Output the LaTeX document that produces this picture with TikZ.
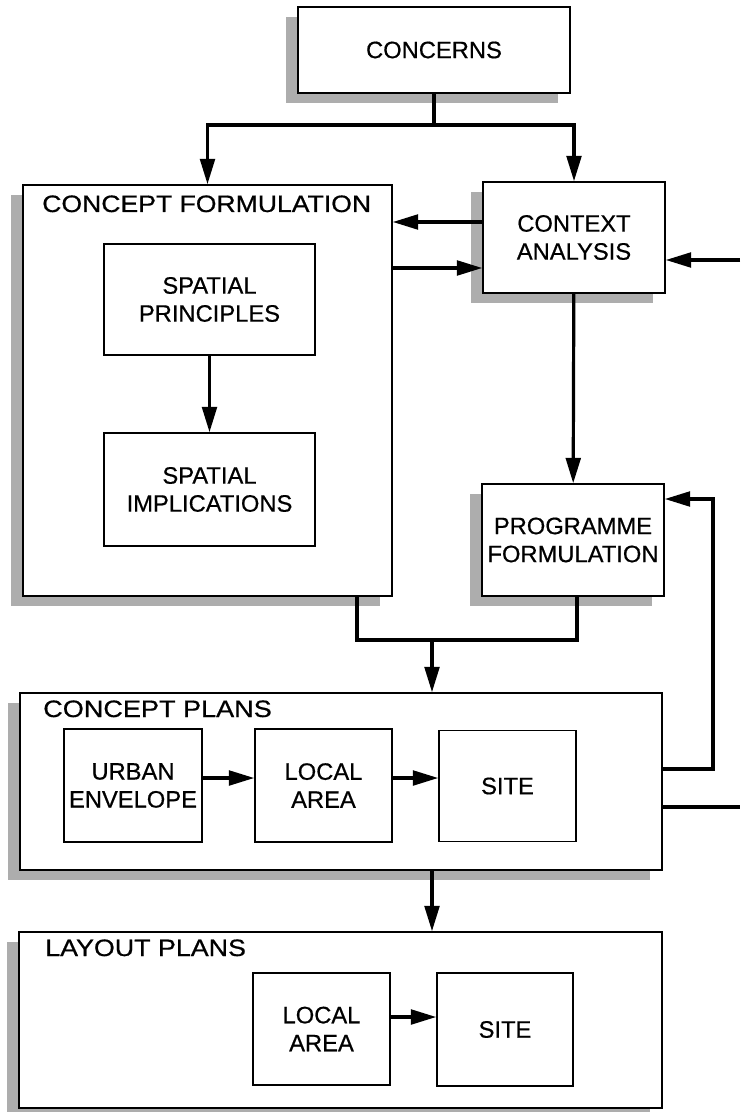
\documentclass[tikz,border=0pt]{standalone}
\usepackage{fontspec}
\setmainfont{Liberation Sans}[FakeBold=0.6]
\usepackage{graphicx}
\usetikzlibrary{arrows.meta,shadows}
\begin{document}
\begin{tikzpicture}[x=0.75pt,y=-0.75pt,
  every node/.style={font=\fontsize{17.8pt}{21pt}\selectfont, align=center, inner sep=0pt},
  sz/.style 2 args={minimum width=#1*0.75pt, minimum height=#2*0.75pt},
  boxline/.style={draw=black, line width=1.1pt, fill=white},
  inbox/.style={boxline},
  shadowed/.style={boxline, drop shadow={shadow xshift=-9pt, shadow yshift=-7.5pt, fill=black!32, opacity=1}},
  conn/.style={line width=2.4pt},
  arr/.style={conn, -{Triangle[length=19pt,width=11pt]}},
  heading/.style={anchor=base west}]

% page
\useasboundingbox[fill=white] (0,0) rectangle (740,1112);

% top level boxes
\node[shadowed, sz={272}{86}]  (concerns) at (434,50)    {CONCERNS};
\node[shadowed, sz={369}{411}] (cf)       at (207.5,390.5) {};
\node[shadowed, sz={182}{111}] (ca)       at (574,237.5) {CONTEXT\\ANALYSIS};
\node[shadowed, sz={182}{112}] (prog)     at (573,540)   {PROGRAMME\\FORMULATION};
\node[shadowed, sz={642}{177}] (cp)       at (341,781.5) {};
\node[shadowed, sz={643}{176}] (lp)       at (340.5,1020) {};

% headings of the grouping boxes
\node[heading] (cfhead) at (42,212) {\scalebox{1.12}[1]{CONCEPT FORMULATION}};
\node[heading] (cphead) at (43,717) {\scalebox{1.14}[1]{CONCEPT PLANS}};
\node[heading] (lphead) at (45,956) {\scalebox{1.13}[1]{LAYOUT PLANS}};

% inner boxes
\node[inbox, sz={211}{111}] (sp)    at (209.5,299.5) {SPATIAL\\PRINCIPLES};
\node[inbox, sz={211}{113}] (si)    at (209.5,489.5) {SPATIAL\\IMPLICATIONS};
\node[inbox, sz={138}{113}] (ue)    at (133,785.5)   {URBAN\\ENVELOPE};
\node[inbox, sz={137}{113}] (la1)   at (323.5,785.5) {LOCAL\\AREA};
\node[inbox, sz={137}{111}] (site1) at (507.5,786)   {SITE};
\node[inbox, sz={137}{112}] (la2)   at (321.5,1029)  {LOCAL\\AREA};
\node[inbox, sz={136}{113}] (site2) at (505,1029.5)  {SITE};

% helper points for the connector routes
\coordinate (split) at (434,125);
\coordinate (yA) at (0,222);
\coordinate (yB) at (0,268);
\coordinate (ext1) at (740,260);
\coordinate (m1) at (357,640);
\coordinate (m2) at (577,640);
\coordinate (m3) at (432,640);
\coordinate (fb1) at (713,769);
\coordinate (fb2) at (713,499);
\coordinate (ext2) at (740,807);
\coordinate (row1) at (0,778);
\coordinate (row2) at (0,1017);

% concerns feed both branches
\draw[conn] (concerns.south) -- (split);
\draw[arr] (split) -| (cf.north);
\draw[arr] (split) -| (ca.north);

% exchange between formulation and context
\draw[arr] (ca.west |- yA) -- (cf.east |- yA);
\draw[arr] (cf.east |- yB) -- (ca.west |- yB);
\draw[arr] (ext1) -- (ca.east |- ext1);

\draw[arr] (sp) -- (si);
\draw[arr] (ca) -- (prog);

% merge into concept plans
\draw[conn] (cf.south -| m1) -- (m1) -- (m2) -- (prog.south -| m2);
\draw[arr] (m3) -- (cp.north -| m3);

% feedback and output
\draw[arr] (cp.east |- fb1) -- (fb1) -- (fb2) -- (prog.east |- fb2);
\draw[conn] (cp.east |- ext2) -- (ext2);

\draw[arr] (ue.east |- row1) -- (la1.west |- row1);
\draw[arr] (la1.east |- row1) -- (site1.west |- row1);

\draw[arr] (cp.south -| m3) -- (lp.north -| m3);
\draw[arr] (la2.east |- row2) -- (site2.west |- row2);

\end{tikzpicture}
\end{document}
